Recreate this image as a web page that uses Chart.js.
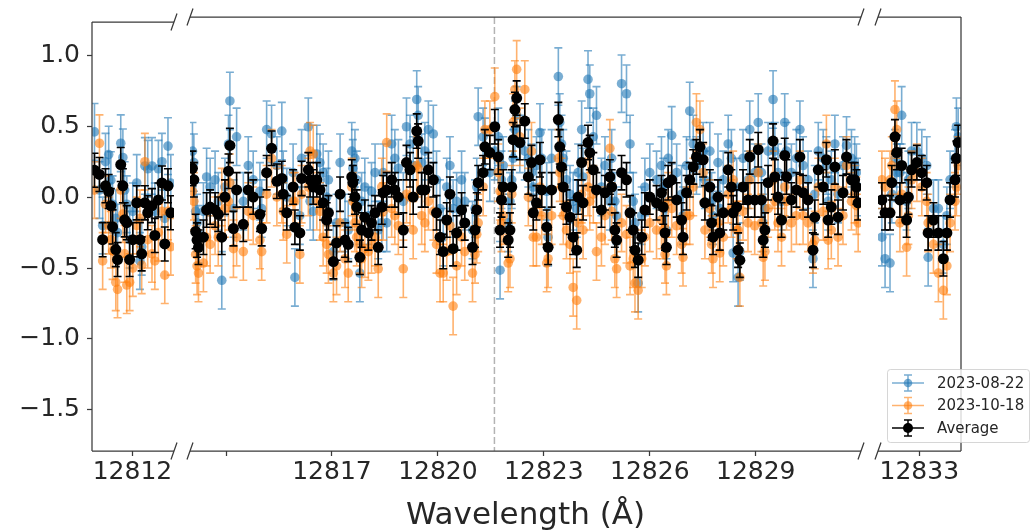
<!DOCTYPE html>
<html>
<head>
<meta charset="utf-8">
<script src="https://cdn.jsdelivr.net/npm/chart.js@4.4.0/dist/chart.umd.min.js"></script>
<style>
    html, body { margin: 0; padding: 0; background: #fff; }
    #wrap { position: relative; width: 1030px; height: 531px; overflow: hidden; }
    #wrap canvas { position: absolute; left: 0; top: 0; }
</style>
</head>
<body>
<div id="wrap">
    <canvas id="segLeft" width="1030" height="531"></canvas>
    <canvas id="segMid" width="1030" height="531"></canvas>
    <canvas id="segRight" width="1030" height="531"></canvas>
</div>
<script>
// ---- datos (longitud de onda en Angstrom, flujo relativo) ----
const seriesNames = ['2023-08-22', '2023-10-18', 'Average'];

const leftWave = [12810.93, 12811.07, 12811.16, 12811.24, 12811.33, 12811.39, 12811.44, 12811.53, 12811.58, 12811.67,
    12811.73, 12811.78, 12811.84, 12811.92, 12812.01, 12812.12, 12812.21, 12812.26, 12812.35, 12812.43,
    12812.55, 12812.63, 12812.73, 12812.83, 12812.91, 12813.00, 12813.08];
const leftBlue = [0.46, 0.05, -0.20, 0.25, 0.30, 0.12, -0.05, -0.15, -0.25, 0.38,
    0.28, 0.05, -0.05, -0.30, -0.10, 0.10, -0.45, -0.35, 0.22, 0.20,
    0.22, -0.10, 0.20, 0.25, -0.15, 0.36, 0.10];
const leftOrange = [0.05, 0.38, -0.45, -0.05, -0.20, -0.30, -0.38, -0.60, -0.65, 0.05,
    -0.12, -0.40, -0.62, -0.60, -0.50, -0.20, -0.15, -0.48, 0.25, -0.30,
    -0.40, -0.45, -0.25, -0.10, -0.55, -0.10, -0.35];
const leftAvg = [0.19, 0.16, -0.30, 0.08, 0.04, -0.06, -0.21, -0.37, -0.44, 0.23,
    0.08, -0.16, -0.18, -0.44, -0.30, -0.04, -0.30, -0.40, -0.04, -0.11,
    -0.06, -0.27, -0.02, 0.10, -0.33, 0.08, -0.11];

const midWave = [12813.05, 12813.09, 12813.14, 12813.18, 12813.22, 12813.36, 12813.45, 12813.55, 12813.69, 12813.78,
    12813.88, 12813.97, 12814.07, 12814.11, 12814.21, 12814.30, 12814.49, 12814.63, 12814.77, 12814.96,
    12815.01, 12815.15, 12815.29, 12815.44, 12815.58, 12815.62, 12815.72, 12815.90, 12815.95, 12816.09,
    12816.14, 12816.33, 12816.38, 12816.47, 12816.57, 12816.66, 12816.75, 12816.85, 12816.90, 12817.04,
    12817.13, 12817.23, 12817.37, 12817.46, 12817.56, 12817.59, 12817.65, 12817.70, 12817.79, 12817.84,
    12817.93, 12818.03, 12818.12, 12818.22, 12818.31, 12818.41, 12818.45, 12818.55, 12818.69, 12818.78,
    12818.88, 12819.02, 12819.11, 12819.21, 12819.30, 12819.40, 12819.44, 12819.54, 12819.63, 12819.73,
    12819.87, 12819.96, 12820.06, 12820.15, 12820.25, 12820.34, 12820.43, 12820.53, 12820.67, 12820.76,
    12820.98, 12821.05, 12821.10, 12821.14, 12821.28, 12821.33, 12821.47, 12821.61, 12821.71, 12821.76,
    12821.80, 12821.85, 12821.99, 12822.04, 12822.09, 12822.13, 12822.18, 12822.23, 12822.32, 12822.46,
    12822.56, 12822.65, 12822.70, 12822.79, 12822.89, 12822.94, 12823.08, 12823.12, 12823.22, 12823.41,
    12823.45, 12823.50, 12823.55, 12823.64, 12823.74, 12823.83, 12823.93, 12823.97, 12824.07, 12824.11,
    12824.25, 12824.30, 12824.40, 12824.49, 12824.63, 12824.73, 12824.87, 12824.92, 12825.01, 12825.06,
    12825.20, 12825.34, 12825.44, 12825.53, 12825.58, 12825.67, 12825.77, 12825.86, 12826.00, 12826.19,
    12826.33, 12826.38, 12826.43, 12826.47, 12826.52, 12826.62, 12826.76, 12826.90, 12826.94, 12827.04,
    12827.13, 12827.23, 12827.32, 12827.42, 12827.51, 12827.56, 12827.70, 12827.75, 12827.79, 12827.93,
    12827.98, 12828.08, 12828.22, 12828.31, 12828.36, 12828.46, 12828.50, 12828.55, 12828.64, 12828.78,
    12828.83, 12828.97, 12829.07, 12829.16, 12829.21, 12829.26, 12829.35, 12829.49, 12829.54, 12829.63,
    12829.73, 12829.82, 12829.87, 12830.01, 12830.15, 12830.25, 12830.34, 12830.48, 12830.62, 12830.67,
    12830.77, 12830.91, 12831.00, 12831.05, 12831.14, 12831.24, 12831.33, 12831.47, 12831.57, 12831.71,
    12831.80, 12831.85, 12831.90];
const midBlue = [0.30, 0.22, -0.12, -0.20, -0.28, -0.12, 0.12, 0.05, 0.10, -0.05,
    -0.60, 0.05, 0.35, 0.65, -0.10, 0.40, -0.05, 0.20, 0.10, 0.02,
    -0.10, 0.45, 0.42, 0.20, 0.44, 0.10, -0.02, 0.15, -0.58, -0.15,
    0.25, 0.47, -0.05, -0.12, 0.28, 0.22, 0.15, -0.02, 0.10, -0.40,
    -0.20, 0.22, -0.20, -0.25, 0.30, 0.18, 0.25, 0.10, -0.55, -0.05,
    0.05, -0.15, 0.02, 0.15, -0.25, -0.20, 0.15, -0.20, 0.35, 0.25,
    0.18, -0.05, 0.47, 0.35, 0.20, 0.66, 0.55, 0.22, 0.30, 0.45,
    0.42, 0.10, -0.10, -0.30, 0.05, 0.20, -0.10, -0.05, 0.10, -0.05,
    -0.25, -0.10, 0.05, 0.54, 0.40, 0.33, 0.15, 0.30, 0.40, -0.53,
    0.10, 0.20, -0.20, -0.05, 0.10, 0.25, 0.45, 0.55, 0.35, 0.30,
    0.25, 0.15, 0.05, 0.20, 0.43, 0.25, 0.02, -0.30, 0.25, 0.82,
    0.50, 0.35, 0.25, 0.10, 0.00, -0.05, -0.10, 0.15, 0.45, 0.12,
    0.80, 0.70, 0.40, 0.55, 0.05, 0.20, -0.05, 0.25, -0.05, -0.15,
    0.77, 0.70, 0.35, -0.05, -0.20, -0.62, -0.15, 0.05, 0.15, 0.10,
    0.20, 0.05, -0.10, -0.25, 0.25, 0.41, 0.15, 0.00, -0.15, 0.20,
    0.58, 0.35, 0.20, 0.25, 0.30, 0.10, 0.30, -0.05, -0.15, 0.22,
    -0.10, 0.10, 0.35, 0.25, -0.41, 0.05, -0.58, -0.40, 0.25, 0.10,
    0.45, 0.15, 0.50, 0.15, -0.20, -0.10, 0.30, 0.66, 0.30, 0.15,
    -0.05, 0.50, 0.30, 0.15, 0.25, 0.45, 0.20, 0.10, -0.45, 0.00,
    0.30, 0.25, 0.20, -0.05, 0.10, 0.35, 0.00, 0.20, 0.34, 0.25,
    0.20, 0.15, 0.05];
const midOrange = [0.02, -0.05, -0.42, -0.50, -0.55, -0.48, -0.30, -0.35, -0.22, -0.30,
    -0.02, -0.10, -0.05, 0.08, -0.38, -0.30, -0.40, -0.12, -0.15, -0.32,
    -0.40, 0.00, 0.25, -0.02, 0.00, -0.12, -0.28, -0.05, -0.05, -0.42,
    0.00, 0.05, 0.30, 0.28, -0.05, -0.12, -0.30, -0.35, -0.42, -0.55,
    -0.50, -0.20, -0.45, -0.55, 0.05, -0.05, -0.20, -0.30, -0.35, -0.45,
    -0.38, -0.40, -0.35, -0.30, -0.52, 0.05, -0.12, 0.36, -0.10, -0.15,
    -0.22, -0.52, 0.00, -0.02, -0.25, 0.20, 0.18, -0.15, -0.20, -0.05,
    -0.12, -0.35, -0.55, -0.55, -0.40, -0.22, -0.78, -0.50, -0.30, -0.40,
    -0.55, -0.42, -0.28, -0.20, 0.05, 0.45, 0.45, 0.68, 0.15, 0.02,
    -0.20, -0.15, -0.48, -0.45, 0.00, 0.50, 0.73, 0.87, 0.40, 0.73,
    -0.02, 0.30, -0.30, -0.30, 0.05, -0.15, -0.48, -0.45, -0.15, 0.25,
    0.15, 0.05, -0.15, -0.25, -0.35, -0.65, -0.74, -0.20, 0.00, -0.25,
    0.05, -0.05, 0.00, -0.40, -0.30, -0.15, 0.32, -0.12, -0.45, -0.52,
    -0.20, -0.28, -0.50, -0.45, -0.62, -0.67, -0.45, -0.30, -0.20, -0.25,
    -0.18, -0.25, -0.42, -0.50, -0.05, -0.10, -0.22, -0.35, -0.44, -0.15,
    -0.15, 0.05, 0.50, 0.45, 0.15, -0.25, -0.10, -0.35, -0.45, -0.20,
    -0.41, -0.30, 0.00, -0.10, 0.10, -0.25, -0.25, -0.58, -0.12, -0.20,
    0.10, -0.22, 0.15, -0.20, -0.44, -0.40, -0.10, 0.10, -0.05, -0.20,
    -0.30, 0.05, -0.05, -0.20, -0.15, 0.10, -0.15, -0.20, -0.35, -0.32,
    0.05, -0.12, 0.35, -0.32, -0.25, 0.05, -0.30, -0.15, 0.20, -0.05,
    0.00, -0.08, -0.20];
const midAvg = [0.18, 0.10, -0.26, -0.32, -0.37, -0.30, -0.11, -0.09, -0.11, -0.14,
    -0.30, -0.02, 0.16, 0.34, -0.24, 0.03, -0.21, 0.03, -0.02, -0.14,
    -0.24, 0.15, 0.32, 0.09, 0.11, 0.00, -0.13, 0.05, -0.23, -0.27,
    0.11, 0.17, 0.10, 0.05, 0.10, 0.03, -0.06, -0.18, -0.13, -0.47,
    -0.34, 0.00, -0.32, -0.35, 0.12, 0.08, -0.02, -0.09, -0.44, -0.25,
    -0.16, -0.27, -0.20, -0.13, -0.37, -0.09, 0.01, 0.03, 0.10, 0.03,
    -0.02, -0.25, 0.22, 0.17, -0.02, 0.44, 0.37, 0.03, 0.03, 0.17,
    0.10, -0.13, -0.30, -0.40, -0.18, 0.00, -0.38, -0.27, -0.11, -0.20,
    -0.37, -0.25, -0.11, 0.08, 0.15, 0.33, 0.29, 0.47, 0.26, -0.25,
    -0.04, 0.05, -0.32, -0.25, 0.05, 0.38, 0.59, 0.67, 0.36, 0.51,
    0.12, 0.22, -0.13, -0.06, 0.24, 0.03, -0.23, -0.37, 0.03, 0.52,
    0.33, 0.19, 0.05, -0.09, -0.16, -0.30, -0.39, -0.02, 0.22, -0.06,
    0.36, 0.29, 0.17, 0.03, -0.11, 0.01, 0.12, 0.05, -0.25, -0.32,
    0.15, 0.10, -0.13, -0.25, -0.39, -0.46, -0.30, -0.11, -0.02, -0.06,
    0.01, -0.09, -0.27, -0.37, 0.08, 0.10, -0.04, -0.18, -0.30, 0.01,
    0.10, 0.19, 0.26, 0.33, 0.24, -0.06, 0.05, -0.20, -0.30, -0.02,
    -0.27, -0.13, 0.17, 0.05, -0.13, -0.09, -0.39, -0.46, 0.05, -0.04,
    0.26, -0.04, 0.31, -0.04, -0.32, -0.25, 0.08, 0.37, 0.12, -0.02,
    -0.18, 0.27, 0.12, -0.04, 0.03, 0.26, 0.01, -0.04, -0.39, -0.16,
    0.17, 0.05, 0.24, -0.18, -0.09, 0.19, -0.16, 0.01, 0.26, 0.10,
    0.10, 0.05, -0.06];

const rightWave = [12831.94, 12832.03, 12832.17, 12832.22, 12832.31, 12832.36, 12832.45, 12832.50, 12832.64, 12832.69,
    12832.78, 12832.93, 12833.07, 12833.21, 12833.25, 12833.40, 12833.54, 12833.68, 12833.78, 12833.87,
    12834.01, 12834.05, 12834.10];
const rightBlue = [-0.30, -0.45, -0.48, 0.00, 0.25, 0.15, 0.15, 0.55, -0.05, 0.10,
    0.30, 0.30, 0.25, 0.20, -0.44, -0.10, -0.10, -0.35, -0.15, 0.10,
    0.25, 0.47, 0.40];
const rightOrange = [0.10, 0.05, 0.10, 0.20, 0.59, 0.45, -0.20, 0.00, -0.37, -0.15,
    0.10, 0.15, 0.05, -0.05, -0.20, -0.35, -0.55, -0.67, -0.50, -0.20,
    -0.05, 0.05, 0.20];
const rightAvg = [-0.04, -0.13, -0.13, 0.08, 0.40, 0.29, -0.04, 0.20, -0.18, -0.02,
    0.17, 0.22, 0.15, 0.08, -0.27, -0.18, -0.27, -0.45, -0.27, -0.04,
    0.10, 0.25, 0.36];

// barras de error (1 sigma) de cada serie
const errBlue = 0.20;
const errOrange = 0.20;
const errAvg = 0.12;

// ticks
const leftTicks = [12812];
const leftTickLabels = ['12812'];
const midTicks = [12814, 12817, 12820, 12823, 12826, 12829];
const midTickLabels = ['', '12817', '12820', '12823', '12826', '12829'];
const rightTicks = [12833];
const rightTickLabels = ['12833'];
const yTicks = [-1.5, -1.0, -0.5, 0.0, 0.5, 1.0];
const yMin = -1.79;
const yMax = 1.235;
const lineWave = 12821.6; // linea vertical discontinua

// ---- estilos ----
const colBlue = 'rgba(31,119,180,0.6)';
const colOrange = 'rgba(255,127,14,0.6)';
const colAvg = '#000000';
const textColor = '#262626';
const spineColor = '#3a3a3a';
const fontFamily = "'DejaVu Sans', 'Liberation Sans', sans-serif";
const capHalf = 4;
const radColor = 4.8;
const radAvg = 5.5;

const segments = [
    { id: 'segLeft', wave: leftWave, blue: leftBlue, orange: leftOrange, avg: leftAvg,
      min: 12810.86, max: 12813.17, left: 92, right: 174, ticks: leftTicks, labels: leftTickLabels,
      first: true, last: false },
    { id: 'segMid', wave: midWave, blue: midBlue, orange: midOrange, avg: midAvg,
      min: 12812.98, max: 12831.98, left: 190, right: 861, ticks: midTicks, labels: midTickLabels,
      first: false, last: false, title: true, vline: true },
    { id: 'segRight', wave: rightWave, blue: rightBlue, orange: rightOrange, avg: rightAvg,
      min: 12831.83, max: 12834.18, left: 878, right: 961, ticks: rightTicks, labels: rightTickLabels,
      first: false, last: true, legend: true }
];

function fmtY(v) {
    return v.toFixed(1).replace('-', '\u2212');
}

// barras de error dibujadas justo antes de los puntos de cada serie
const errorBars = {
    id: 'errorBars',
    beforeDatasetDraw(chart, args) {
        const ds = chart.data.datasets[args.index];
        const xs = chart.scales.x;
        const ys = chart.scales.y;
        const area = chart.chartArea;
        const ctx = chart.ctx;
        ctx.save();
        ctx.beginPath();
        ctx.rect(area.left, area.top, area.right - area.left, area.bottom - area.top);
        ctx.clip();
        ctx.strokeStyle = ds.backgroundColor;
        ctx.lineWidth = 1.6;
        for (let p of ds.data) {
            let px = xs.getPixelForValue(p.x);
            let top = ys.getPixelForValue(p.y + ds.err);
            let bot = ys.getPixelForValue(p.y - ds.err);
            ctx.beginPath();
            ctx.moveTo(px, top);
            ctx.lineTo(px, bot);
            ctx.moveTo(px - capHalf, top);
            ctx.lineTo(px + capHalf, top);
            ctx.moveTo(px - capHalf, bot);
            ctx.lineTo(px + capHalf, bot);
            ctx.stroke();
        }
        ctx.restore();
    }
};

// linea vertical discontinua (debajo de los datos)
const vLine = {
    id: 'vLine',
    beforeDatasetsDraw(chart, args, opts) {
        if (!opts.show) return;
        const area = chart.chartArea;
        const px = chart.scales.x.getPixelForValue(lineWave);
        const ctx = chart.ctx;
        ctx.save();
        ctx.strokeStyle = 'rgba(128,128,128,0.6)';
        ctx.lineWidth = 1.5;
        ctx.setLineDash([7, 3]);
        ctx.beginPath();
        ctx.moveTo(px, area.top);
        ctx.lineTo(px, area.bottom);
        ctx.stroke();
        ctx.restore();
    }
};

// marco del eje roto y marcas "//"
const frame = {
    id: 'frame',
    afterDraw(chart, args, opts) {
        const a = chart.chartArea;
        const ctx = chart.ctx;
        ctx.save();
        ctx.strokeStyle = spineColor;
        ctx.lineWidth = 1.25;
        ctx.beginPath();
        ctx.moveTo(a.left, a.top); ctx.lineTo(a.right, a.top);
        ctx.moveTo(a.left, a.bottom); ctx.lineTo(a.right, a.bottom);
        if (opts.first) { ctx.moveTo(a.left, a.top); ctx.lineTo(a.left, a.bottom); }
        if (opts.last) { ctx.moveTo(a.right, a.top); ctx.lineTo(a.right, a.bottom); }
        ctx.stroke();

        let edges = [];
        if (!opts.first) edges.push(a.left);
        if (!opts.last) edges.push(a.right);
        ctx.beginPath();
        for (let ex of edges) {
            for (let ey of [a.top, a.bottom]) {
                ctx.moveTo(ex - 3, ey + 8.5);
                ctx.lineTo(ex + 3, ey - 8.5);
            }
        }
        ctx.stroke();
        ctx.restore();

        if (opts.legend) drawLegend(ctx);
    }
};

function drawLegend(ctx) {
    const box = { x: 887, y: 369, w: 142, h: 73 };
    ctx.save();
    ctx.fillStyle = 'rgba(255,255,255,0.8)';
    ctx.strokeStyle = 'rgba(204,204,204,0.8)';
    ctx.lineWidth = 1;
    ctx.beginPath();
    ctx.roundRect(box.x + 0.5, box.y + 0.5, box.w, box.h, 3);
    ctx.fill();
    ctx.stroke();

    const rows = [383, 405.5, 428];
    const cols = [colBlue, colOrange, colAvg];
    const radii = [radColor, radColor, radAvg];
    ctx.font = '15px ' + fontFamily;
    ctx.textBaseline = 'middle';
    for (let i = 0; i < 3; i++) {
        let cy = rows[i], cx = 908;
        ctx.strokeStyle = cols[i];
        ctx.fillStyle = cols[i];
        ctx.lineWidth = 1.5;
        ctx.beginPath();
        ctx.moveTo(892, cy); ctx.lineTo(924, cy);
        ctx.stroke();
        ctx.beginPath();
        ctx.moveTo(cx, cy - 8); ctx.lineTo(cx, cy + 8);
        ctx.moveTo(cx - capHalf, cy - 8); ctx.lineTo(cx + capHalf, cy - 8);
        ctx.moveTo(cx - capHalf, cy + 8); ctx.lineTo(cx + capHalf, cy + 8);
        ctx.stroke();
        ctx.beginPath();
        ctx.arc(cx, cy, radii[i] - 0.5, 0, Math.PI * 2);
        ctx.fill();
        ctx.fillStyle = textColor;
        ctx.fillText(seriesNames[i], 937, cy + 1);
    }
    ctx.restore();
}

function makeChart(seg) {
    const pts = vals => seg.wave.map((w, i) => ({ x: w, y: vals[i] }));
    const tickGrid = {
        drawOnChartArea: false, drawTicks: true, tickLength: 5,
        tickColor: spineColor, tickWidth: 1.25
    };
    return new Chart(document.getElementById(seg.id), {
        type: 'scatter',
        data: {
            datasets: [
                { label: seriesNames[0], data: pts(seg.blue), err: errBlue, backgroundColor: colBlue,
                  pointRadius: radColor, pointBorderWidth: 0, order: 3, clip: 0 },
                { label: seriesNames[1], data: pts(seg.orange), err: errOrange, backgroundColor: colOrange,
                  pointRadius: radColor, pointBorderWidth: 0, order: 2, clip: 0 },
                { label: seriesNames[2], data: pts(seg.avg), err: errAvg, backgroundColor: colAvg,
                  pointRadius: radAvg, pointBorderWidth: 0, order: 1, clip: 0 }
            ]
        },
        options: {
            responsive: false,
            animation: false,
            devicePixelRatio: 1,
            events: [],
            layout: { padding: { left: seg.first ? 0 : seg.left, right: 1030 - seg.right, top: 17, bottom: 0 } },
            plugins: {
                legend: { display: false },
                tooltip: { enabled: false },
                frame: { first: seg.first, last: seg.last, legend: !!seg.legend },
                vLine: { show: !!seg.vline }
            },
            scales: {
                x: {
                    type: 'linear',
                    min: seg.min,
                    max: seg.max,
                    afterFit: s => { s.height = 80; },
                    afterBuildTicks: s => { s.ticks = seg.ticks.map(v => ({ value: v })); },
                    ticks: {
                        callback: (v, i) => seg.labels[i],
                        autoSkip: false, maxRotation: 0, minRotation: 0,
                        color: textColor, padding: 1,
                        font: { family: fontFamily, size: 25 }
                    },
                    grid: tickGrid,
                    border: { display: false },
                    title: {
                        display: !!seg.title,
                        text: 'Wavelength (\u00c5)',
                        color: textColor,
                        padding: { top: 0, bottom: 0 },
                        font: { family: fontFamily, size: 31, lineHeight: 1 }
                    }
                },
                y: {
                    type: 'linear',
                    min: yMin,
                    max: yMax,
                    display: seg.first,
                    afterFit: s => { if (seg.first) s.width = 92; },
                    afterBuildTicks: s => { s.ticks = yTicks.map(v => ({ value: v })); },
                    ticks: {
                        callback: v => fmtY(v),
                        color: textColor, padding: 7,
                        font: { family: fontFamily, size: 25 }
                    },
                    grid: tickGrid,
                    border: { display: false }
                }
            }
        },
        plugins: [vLine, errorBars, frame]
    });
}

segments.forEach(makeChart);
</script>
</body>
</html>
